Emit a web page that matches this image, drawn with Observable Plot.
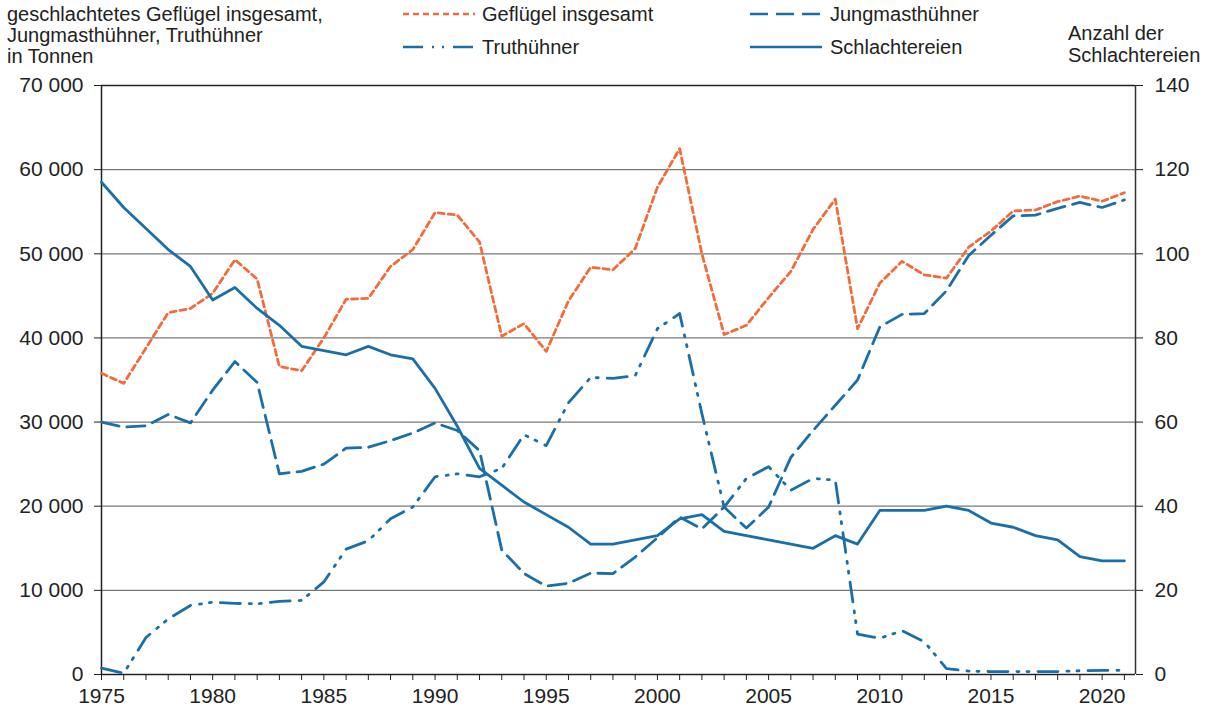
<!DOCTYPE html>
<html>
<head>
<meta charset="utf-8">
<script src="https://cdn.jsdelivr.net/npm/d3@7"></script>
<script src="https://cdn.jsdelivr.net/npm/@observablehq/plot@0.6"></script>
<style>
  body { margin: 0; background: white; font-family: "Liberation Sans", Arial, sans-serif; color: #222; }
  #wrap { position: relative; width: 1208px; height: 715px; overflow: hidden; }
  #header { position: relative; width: 1208px; height: 70px; font-size: 20px; }
  .t { position: absolute; white-space: nowrap; line-height: 21px; }
  .sw { position: absolute; }
</style>
</head>
<body>
<div id="wrap">
  <div id="header">
    <div class="t" style="left:7px; top:4px;">geschlachtetes Geflügel insgesamt,<br>Jungmasthühner, Truthühner<br>in Tonnen</div>
    <svg class="sw" style="left:400px; top:4px;" width="80" height="60">
      <line x1="3" x2="75" y1="10" y2="10" stroke="#f26b3a" stroke-width="2.7" stroke-dasharray="6,4"></line>
      <line x1="3" x2="75" y1="43" y2="43" stroke="#1a6fa8" stroke-width="2.7" stroke-dasharray="20,9,2,8,2,9"></line>
    </svg>
    <div class="t" style="left:482px; top:4px;">Geflügel insgesamt</div>
    <div class="t" style="left:482px; top:37px;">Truthühner</div>
    <svg class="sw" style="left:747px; top:4px;" width="80" height="60">
      <line x1="3" x2="75" y1="10" y2="10" stroke="#1a6fa8" stroke-width="2.7" stroke-dasharray="18,8"></line>
      <line x1="3" x2="75" y1="43" y2="43" stroke="#1a6fa8" stroke-width="2.7"></line>
    </svg>
    <div class="t" style="left:830px; top:4px;">Jungmasthühner</div>
    <div class="t" style="left:830px; top:37px;">Schlachtereien</div>
    <div class="t" style="left:1068px; top:22px; line-height:22px;">Anzahl der<br>Schlachtereien</div>
  </div>
  <div id="chart"></div>
</div>
<script>
const years = [1975,1976,1977,1978,1979,1980,1981,1982,1983,1984,1985,1986,1987,1988,1989,1990,1991,1992,1993,1994,1995,1996,1997,1998,1999,2000,2001,2002,2003,2004,2005,2006,2007,2008,2009,2010,2011,2012,2013,2014,2015,2016,2017,2018,2019,2020,2021];

// Tonnen
const gefluegel = [35800,34600,38800,43000,43500,45300,49300,47000,36600,36100,
                   40000,44600,44700,48500,50500,54900,54600,51400,40200,41700,
                   38400,44400,48400,48100,50600,57900,62500,50000,40400,41500,
                   44800,47900,52900,56500,41100,46500,49100,47500,47100,50800,
                   52700,55100,55200,56200,56850,56250,57250];
const jungmast = [30000,29400,29550,30900,29900,33800,37200,34700,23850,24150,
                  25000,26900,27000,27800,28700,29900,29000,26600,14800,12000,
                  10500,10850,12050,12000,13950,16250,18700,17300,19900,17400,
                  19900,25800,29000,32000,35000,41300,42800,42900,45600,49800,
                  52200,54500,54600,55400,56100,55500,56400];
const truthuehner = [750,150,4400,6600,8200,8600,8450,8400,8700,8800,
                     11000,14900,15900,18500,19900,23500,23850,23500,24500,28500,
                     27200,32300,35300,35200,35500,41100,42900,31000,19900,23300,
                     24700,21900,23300,23100,4800,4300,5200,3900,700,400,
                     350,350,350,350,450,500,500];
// Anzahl (rechte Achse)
const schlachtereien = [117,111,106,101,97,89,92,87,83,78,
                        77,76,78,76,75,68,59,49,45,41,
                        38,35,31,31,32,33,37,38,34,33,
                        32,31,30,33,31,39,39,39,40,39,
                        36,35,33,32,28,27,27];

const leftTicks = [0,10000,20000,30000,40000,50000,60000,70000];
const rightTicks = [0,20,40,60,80,100,120,140];
const xLabelYears = [1975,1980,1985,1990,1995,2000,2005,2010,2015,2020];

const ratio = 70000 / 140;
const rows = years.map((y, i) => ({
  year: y,
  gef: gefluegel[i],
  jung: jungmast[i],
  tru: truthuehner[i],
  sch: schlachtereien[i] * ratio
}));

const orange = "#f26b3a";
const blue = "#1a6fa8";
const fmt = d => d3.format(",")(d).replace(/,/g, " ");

const chart = Plot.plot({
  width: 1208,
  height: 645,
  marginLeft: 101,
  marginRight: 73,
  marginTop: 15,
  marginBottom: 41,
  style: { fontFamily: "'Liberation Sans', Arial, sans-serif", fontSize: "21px", color: "#222", background: "white", overflow: "visible" },
  x: { domain: [1975, 2021.5] },
  y: { domain: [0, 70000] },
  marks: [
    Plot.ruleY(leftTicks.filter(d => d > 0 && d < 70000), { stroke: "#7a7a7a", strokeWidth: 1.3 }),
    Plot.ruleY([70000], { stroke: "#222", strokeWidth: 1.3 }),
    Plot.ruleY([0], { stroke: "#222", strokeWidth: 1.5 }),
    Plot.ruleX([1975], { stroke: "#222", strokeWidth: 1.5 }),
    Plot.ruleX([2021.5], { stroke: "#333", strokeWidth: 1.5 }),
    Plot.axisY(leftTicks, { anchor: "left", label: null, tickSize: 7, tickPadding: 11, tickFormat: fmt, fontSize: 21, stroke: "#222" }),
    Plot.axisY(rightTicks.map(d => d * ratio), { anchor: "right", label: null, tickSize: 7, tickPadding: 12, tickFormat: d => String(d / ratio), fontSize: 21, stroke: "#222" }),
    Plot.axisX(years, { anchor: "bottom", label: null, tickSize: 6, tickPadding: 8, tickFormat: d => xLabelYears.includes(d) ? String(d) : "", fontSize: 21, stroke: "#222" }),
    Plot.line(rows, { x: "year", y: "jung", stroke: blue, strokeWidth: 2.8, strokeDasharray: "18,8" }),
    Plot.line(rows, { x: "year", y: "tru", stroke: blue, strokeWidth: 2.8, strokeDasharray: "20,9,2,8,2,9" }),
    Plot.line(rows, { x: "year", y: "gef", stroke: orange, strokeWidth: 2.8, strokeDasharray: "6,4" }),
    Plot.line(rows, { x: "year", y: "sch", stroke: blue, strokeWidth: 2.8 })
  ]
});
document.getElementById("chart").appendChild(chart);
</script>
</body>
</html>
